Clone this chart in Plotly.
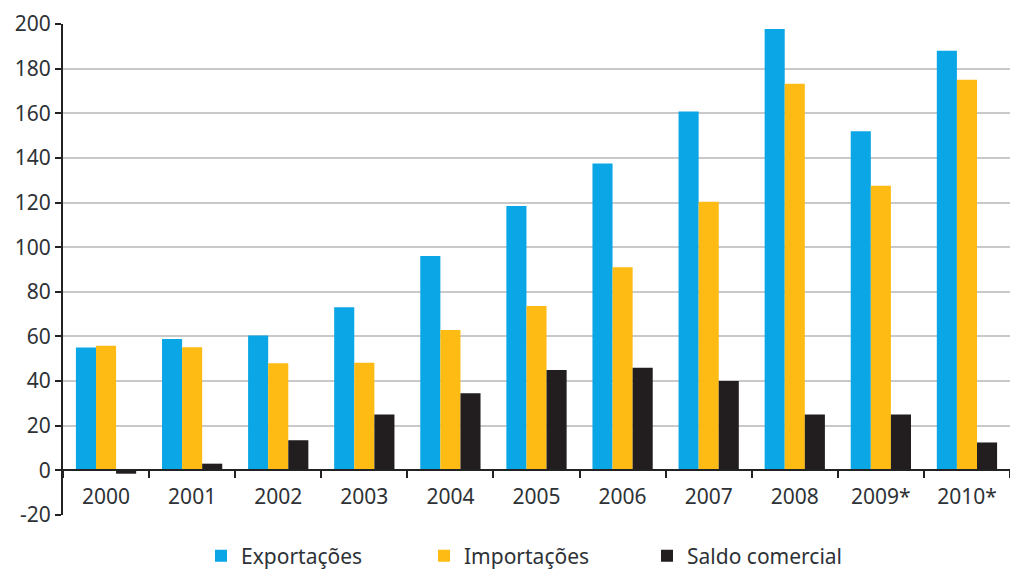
import plotly.graph_objects as go

anos = ["2000", "2001", "2002", "2003", "2004", "2005", "2006", "2007", "2008", "2009*", "2010*"]
exportacoes = [55.1, 58.9, 60.4, 73.1, 96.0, 118.5, 137.5, 160.8, 197.8, 152.0, 188.0]
importacoes = [55.8, 55.2, 48.0, 48.2, 62.9, 73.6, 91.0, 120.4, 173.2, 127.5, 175.0]
saldo = [-1.5, 3.0, 13.5, 25.0, 34.5, 45.0, 46.0, 40.0, 25.0, 25.0, 12.5]

y_ticks = list(range(-20, 201, 20))
y_ticktext = [str(v) for v in y_ticks]  # plain hyphen for "-20"

series_names = ["Exportações", "Importações", "Saldo comercial"]
series_colors = ["#0AA6E6", "#FDBB13", "#221E1F"]

FONT = "Noto Sans"
TXT = "#2E3236"

fig = go.Figure()
for name, vals, col in zip(series_names, [exportacoes, importacoes, saldo], series_colors):
    fig.add_trace(go.Bar(x=anos, y=vals, name=name, marker=dict(color=col, line=dict(width=0))))

y_min, y_max = -20, 200
fig.update_layout(
    width=1010, height=575,
    margin=dict(l=63, r=0, t=24, b=60, autoexpand=False),
    paper_bgcolor="white", plot_bgcolor="white",
    barmode="group", bargap=0.3, bargroupgap=0,
    font=dict(family=FONT, size=21, color=TXT),
    showlegend=True,
    legend=dict(orientation="h", xref="container", x=0.199, xanchor="left",
                yref="container", y=19 / 575, yanchor="middle",
                font=dict(family=FONT, size=21, color=TXT),
                traceorder="normal", entrywidth=178, entrywidthmode="pixels"),
    xaxis=dict(
        type="category", anchor="free", position=(0 - y_min) / (y_max - y_min),
        showline=True, linecolor="#222222", linewidth=2,
        ticks="outside", tickson="boundaries", ticklen=7, tickwidth=2, tickcolor="#222222",
        showgrid=False, ticklabelstandoff=7,
        tickfont=dict(family=FONT, size=21, color=TXT),
    ),
    yaxis=dict(
        range=[y_min, y_max], tickvals=y_ticks, ticktext=y_ticktext,
        showline=True, linecolor="#222222", linewidth=2,
        ticks="outside", ticklen=6, tickwidth=2, tickcolor="#222222",
        showgrid=True, gridcolor="#C9C9C9", gridwidth=1.5,
        zeroline=False,
        tickfont=dict(family=FONT, size=21, color=TXT),
    ),
)

fig.write_html("out.html")
